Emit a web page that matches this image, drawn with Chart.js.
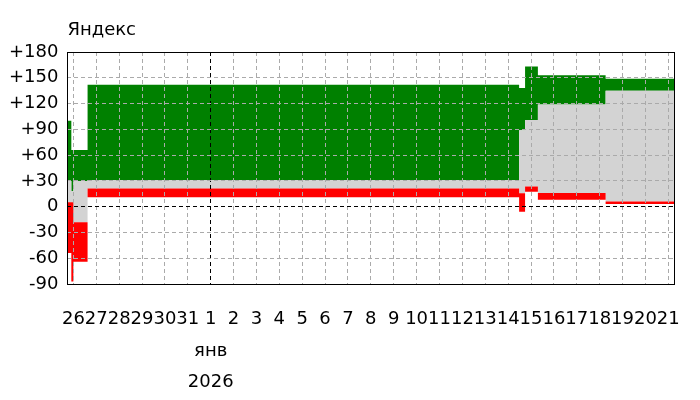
<!DOCTYPE html>
<html>
<head>
<meta charset="utf-8">
<script src="https://cdn.jsdelivr.net/npm/chart.js@4/dist/chart.umd.min.js"></script>
<style>
  body { margin: 0; background: #fff; }
  #wrap { width: 700px; height: 400px; }
</style>
</head>
<body>
<div id="wrap"><canvas id="chart"></canvas></div>
<script>
// x = Tage ab 26. Dezember (0 = 26.12., 6 = 1. Januar)
const tickDays = [0, 1, 2, 3, 4, 5, 6, 7, 8, 9, 10, 11, 12, 13, 14, 15, 16, 17, 18, 19, 20, 21, 22, 23, 24, 25, 26];
const tickLabels = ["26", "27", "28", "29", "30", "31", ["1", "янв", "2026"], "2", "3", "4", "5", "6", "7", "8", "9",
  "10", "11", "12", "13", "14", "15", "16", "17", "18", "19", "20", "21"];
const yTicks = [-90, -60, -30, 0, 30, 60, 90, 120, 150, 180];

// Abschnitte (Beginn jedes Abschnitts) und Ende des letzten
const segStart = [-0.26, -0.09, 0, 0.62, 19.48, 19.74, 20.3, 23.26];
const segEnd = 26.27;

// untere/obere Grenze rot, dazwischen grau, darüber grün
const redLow = [-54, -87, -64, 11, -6, 17.5, 8, 3];
const redHigh = [5, 5, -18, 21, 15.5, 23.5, 16, 6];
const greenLow = [30, 18, 30, 31, 89, 101, 119, 135];
const greenHigh = [100, 66, 66, 142, 138, 163, 153, 149];

function toPoints(values) {
  let pts = [];
  for (let i = 0; i < segStart.length; i++) {
    pts.push({ x: segStart[i], y: values[i] });
  }
  pts.push({ x: segEnd, y: values[values.length - 1] });
  return pts;
}

function band(values, fill, color) {
  return {
    data: toPoints(values),
    stepped: true,
    fill: fill,
    backgroundColor: color,
    borderColor: "transparent",
    borderWidth: 0,
    pointRadius: 0,
    pointHoverRadius: 0,
  };
}

const frameAndTitle = {
  id: "frameAndTitle",
  afterDraw(chart) {
    const ctx = chart.ctx;
    const a = chart.chartArea;
    ctx.save();
    ctx.strokeStyle = "#000";
    ctx.lineWidth = 1;
    ctx.strokeRect(Math.round(a.left) + 0.5, Math.round(a.top) + 0.5,
      Math.round(a.right - a.left), Math.round(a.bottom - a.top));
    ctx.fillStyle = "#000";
    ctx.font = '18px "DejaVu Sans"';
    ctx.textBaseline = "alphabetic";
    ctx.fillText("Яндекс", a.left, 35);
    ctx.restore();
  },
};

const font = { family: "DejaVu Sans", size: 18 };

new Chart(document.querySelector("#chart"), {
  type: "line",
  data: {
    datasets: [
      band(redLow, false, "transparent"),
      band(redHigh, "-1", "#ff0000"),
      band(greenLow, "-1", "#d3d3d3"),
      band(greenHigh, "-1", "#008000"),
    ],
  },
  options: {
    responsive: true,
    maintainAspectRatio: false,
    animation: false,
    events: [],
    layout: { padding: { left: 0, right: 23, top: 52, bottom: 0 } },
    plugins: {
      legend: { display: false },
      tooltip: { enabled: false },
      title: { display: false },
    },
    scales: {
      x: {
        type: "linear",
        min: segStart[0],
        max: segEnd,
        afterBuildTicks: (s) => { s.ticks = tickDays.map((v) => ({ value: v })); },
        afterFit: (s) => { s.height = 116; },
        ticks: {
          autoSkip: false,
          maxRotation: 0,
          minRotation: 0,
          padding: 20,
          color: "#000",
          font: { family: "DejaVu Sans", size: 18, lineHeight: 1.75 },
          callback: (v) => tickLabels[tickDays.indexOf(v)],
        },
        grid: {
          z: 1,
          drawTicks: false,
          color: (c) => (c.tick && c.tick.value === 6 ? "#000" : "#aaaaaa"),
        },
        border: { display: false, dash: [4, 3] },
      },
      y: {
        min: -90,
        max: 180,
        afterBuildTicks: (s) => { s.ticks = yTicks.map((v) => ({ value: v })); },
        ticks: {
          padding: 9,
          color: "#000",
          font: font,
          callback: (v) => (v > 0 ? "+" + v : String(v)),
        },
        grid: {
          z: 1,
          drawTicks: false,
          color: (c) => (c.tick && c.tick.value === 0 ? "#000" : "#aaaaaa"),
        },
        border: { display: false, dash: [4, 3] },
      },
    },
  },
  plugins: [frameAndTitle],
});
</script>
</body>
</html>
